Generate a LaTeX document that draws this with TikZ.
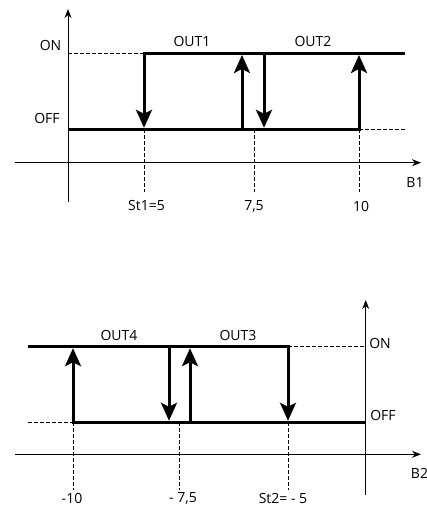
\documentclass[tikz,border=0pt]{standalone}
\usepackage{fontspec}
\setmainfont{Open Sans}
\usetikzlibrary{arrows.meta}

\begin{document}
\begin{tikzpicture}[x=1pt, y=1pt,
    axis/.style={draw=black, line width=0.9pt, -{Stealth[length=9pt, width=7pt]}},
    sw/.style={draw=black, line width=3pt, -{Stealth[length=18pt, width=16pt, inset=4pt]}},
    guide/.style={draw=black, line width=0.8pt, dash pattern=on 3.5pt off 2.5pt},
    lbl/.style={font=\fontsize{14}{16}\selectfont, inner sep=0pt}
  ]
  \useasboundingbox (0,0) rectangle (427,505);

  % upper chart: B1
  \coordinate (y1b) at (68, 303);
  \coordinate (y1t) at (68, 496);
  \coordinate (x1l) at (15, 342.3);
  \coordinate (x1r) at (421, 342.3);
  \coordinate (on1s)  at (68, 451.5);
  \coordinate (on1a)  at (144, 451.5);
  \coordinate (on1e)  at (405, 451.5);
  \coordinate (off1s) at (68, 375.7);
  \coordinate (off1a) at (144, 375.7);
  \coordinate (off1m) at (254, 375.7);
  \coordinate (off1b) at (359, 375.7);
  \coordinate (off1e) at (405, 375.7);
  \coordinate (sw1a) at (144, 377.2);
  \coordinate (sw1b) at (359, 450);
  \coordinate (up1b) at (242, 375.7);
  \coordinate (up1t) at (242, 450);
  \coordinate (dn1t) at (264, 451.5);
  \coordinate (dn1b) at (264, 377.2);
  \coordinate (g1a) at (144, 313);
  \coordinate (g1m) at (254, 313);
  \coordinate (g1b) at (359, 313);

  \draw[axis] (y1b) -- (y1t);
  \draw[axis] (x1l) -- (x1r);
  \draw[guide] (on1s) -- (on1a);
  \draw[guide] (off1b) -- (off1e);
  \draw[guide] (off1a) -- (g1a);
  \draw[guide] (off1m) -- (g1m);
  \draw[guide] (off1b) -- (g1b);
  \draw[sw] (on1e) -- (on1a) -- (sw1a);
  \draw[sw] (off1s) -- (off1b) -- (sw1b);
  \draw[sw] (up1b) -- (up1t);
  \draw[sw] (dn1t) -- (dn1b);

  \node[lbl] (on1)  at (50.5, 459) {ON};
  \node[lbl] (off1) at (47, 386.3) {OFF};
  \node[lbl] (out1) at (192, 463) {OUT1};
  \node[lbl] (out2) at (313, 463) {OUT2};
  \node[lbl] (b1)   at (415, 322) {B1};
  \node[lbl] (st1)  at (146.5, 299) {St1=5};
  \node[lbl] (v1m)  at (254, 299) {7,5};
  \node[lbl] (v1b)  at (361, 299) {10};

  % lower chart: B2
  \coordinate (y2b) at (365.7, 10);
  \coordinate (y2t) at (365.7, 205);
  \coordinate (x2l) at (15, 50.7);
  \coordinate (x2r) at (421, 50.7);
  \coordinate (on2s)  at (28, 158.3);
  \coordinate (on2a)  at (288, 158.3);
  \coordinate (on2e)  at (365.7, 158.3);
  \coordinate (off2s) at (28, 82.7);
  \coordinate (off2a) at (73, 82.7);
  \coordinate (off2m) at (179, 82.7);
  \coordinate (off2b) at (288, 82.7);
  \coordinate (off2e) at (365.7, 82.7);
  \coordinate (sw2a) at (73, 156.8);
  \coordinate (sw2b) at (288, 84.2);
  \coordinate (dn2t) at (169, 158.3);
  \coordinate (dn2b) at (169, 84.2);
  \coordinate (up2b) at (190, 82.7);
  \coordinate (up2t) at (190, 156.8);
  \coordinate (g2a) at (73, 15);
  \coordinate (g2m) at (179, 15);
  \coordinate (g2b) at (288, 15);

  \draw[axis] (y2b) -- (y2t);
  \draw[axis] (x2l) -- (x2r);
  \draw[guide] (on2a) -- (on2e);
  \draw[guide] (off2s) -- (off2a);
  \draw[guide] (off2a) -- (g2a);
  \draw[guide] (off2m) -- (g2m);
  \draw[guide] (off2b) -- (g2b);
  \draw[sw] (off2e) -- (off2a) -- (sw2a);
  \draw[sw] (on2s) -- (on2a) -- (sw2b);
  \draw[sw] (dn2t) -- (dn2b);
  \draw[sw] (up2b) -- (up2t);

  \node[lbl] (on2)  at (380, 161.7) {ON};
  \node[lbl] (off2) at (383, 89.3) {OFF};
  \node[lbl] (out4) at (119, 170) {OUT4};
  \node[lbl] (out3) at (238, 170) {OUT3};
  \node[lbl] (b2)   at (419.5, 31.7) {B2};
  \node[lbl] (v2a)  at (72, 7) {-10};
  \node[lbl] (v2m)  at (183, 7) {- 7,5};
  \node[lbl] (st2)  at (283, 7) {St2= - 5};
\end{tikzpicture}
\end{document}
